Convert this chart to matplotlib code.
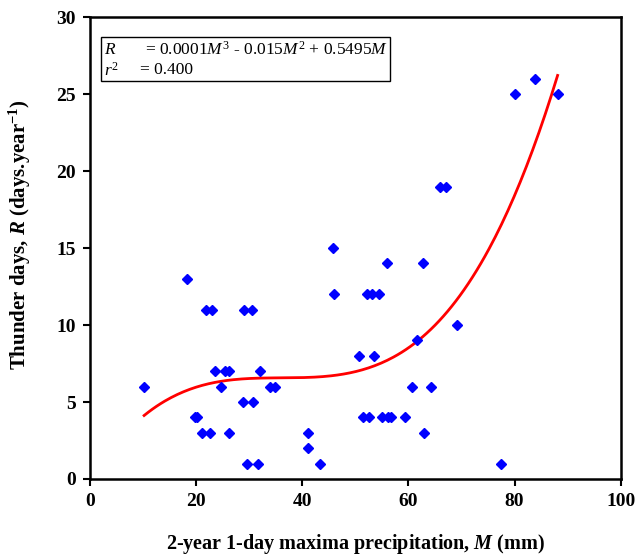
import numpy as np
import matplotlib
matplotlib.use("Agg")
import matplotlib.pyplot as plt
from matplotlib.patches import Rectangle

plt.rcParams.update({
    "font.family": "serif",
    "font.serif": ["Liberation Serif", "DejaVu Serif"],
    "mathtext.fontset": "custom",
    "mathtext.rm": "Liberation Serif",
    "mathtext.it": "Liberation Serif:italic",
    "mathtext.bf": "Liberation Serif:bold",
    "mathtext.bfit": "Liberation Serif:bold:italic",
    "font.size": 12.5,
})

# 2-year 1-day maxima precipitation M (mm) and thunder days R
precip = [10.2, 18.2, 21.8, 22.9, 29.1, 30.5, 45.7, 46.0, 23.5, 25.4,
          26.2, 32.0, 24.6, 34.0, 34.8, 28.9, 30.7, 19.8, 20.1, 21.2,
          22.6, 26.1, 29.6, 31.6, 41.0, 41.0, 43.3, 50.7, 65.9, 67.1,
          56.0, 62.8, 52.1, 53.1, 54.5, 69.2, 61.6, 53.5, 60.7, 64.3,
          51.5, 52.5, 55.1, 56.1, 56.8, 59.3, 63.0, 77.5, 80.1, 83.8,
          88.1]
thunder = [6, 13, 11, 11, 11, 11, 15, 12, 7, 7,
           7, 7, 6, 6, 6, 5, 5, 4, 4, 3,
           3, 3, 1, 1, 3, 2, 1, 8, 19, 19,
           14, 14, 12, 12, 12, 10, 9, 8, 6, 6,
           4, 4, 4, 4, 4, 4, 3, 1, 25, 26,
           25]

x = np.array(precip)
y = np.array(thunder)

# cubic trendline through the origin (least squares on the data)
A = np.column_stack([x**3, x**2, x])
coef, *_ = np.linalg.lstsq(A, y, rcond=None)
xf = np.linspace(x.min(), x.max(), 200)
yf = coef[0] * xf**3 + coef[1] * xf**2 + coef[2] * xf

fig = plt.figure(figsize=(6.38, 5.55), dpi=100)
ax = fig.add_axes([0.141, 0.137, 0.832, 0.832])

ax.plot(x, y, ls="none", marker="D", ms=4.8, color="#0000FF", zorder=3)
ax.plot(xf, yf, color="#FF0000", lw=2.0, zorder=2)

ax.set_xlim(0, 100)
ax.set_ylim(0, 30)
ax.set_xticks(np.arange(0, 101, 20))
ax.set_yticks(np.arange(0, 31, 5))
for s in ax.spines.values():
    s.set_linewidth(1.8)
ax.tick_params(direction="out", length=5, width=1.5, labelsize=14, pad=5)
for lab in ax.get_xticklabels() + ax.get_yticklabels():
    lab.set_fontweight("bold")

ax.set_xlabel(r"2-year 1-day maxima precipitation, $\mathbfit{M}$ (mm)",
              fontweight="bold", fontsize=14.5, labelpad=16)
ax.set_ylabel(r"Thunder days, $\mathbfit{R}$ (days.year$^{\mathbf{-1}}$)",
              fontweight="bold", fontsize=15, labelpad=17)
ax.yaxis.label.set_y(0.53)

# equation box
ax.add_patch(Rectangle((0.02, 0.861), 0.545, 0.096, transform=ax.transAxes,
                       facecolor="white", edgecolor="black", lw=1.0, zorder=4))
ax.text(0.026, 0.930, r"$\it{R}$", transform=ax.transAxes, va="center", zorder=5)
ax.text(0.103, 0.930, r"= 0.0001$\it{M}^3$ - 0.015$\it{M}^2$ + 0.5495$\it{M}$",
        transform=ax.transAxes, va="center", zorder=5)
ax.text(0.026, 0.885, r"$\it{r}^2$", transform=ax.transAxes, va="center", zorder=5)
ax.text(0.094, 0.885, "= 0.400", transform=ax.transAxes, va="center", zorder=5)

fig.savefig("out.png", dpi=100)
